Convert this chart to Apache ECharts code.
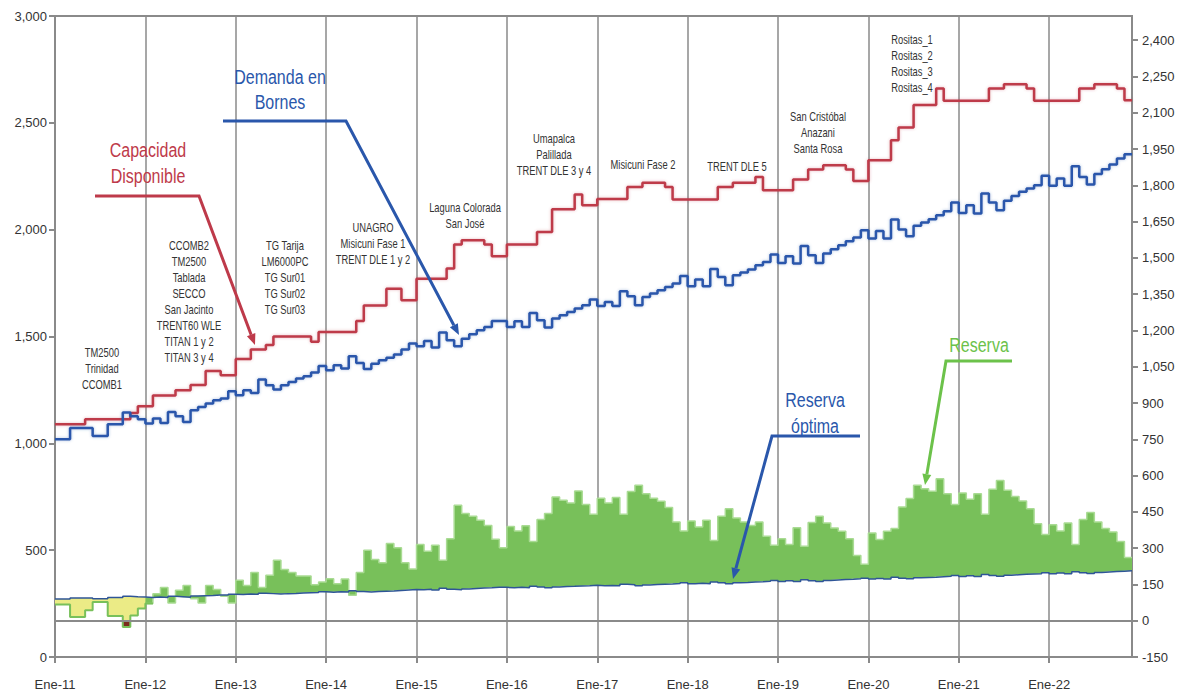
<!DOCTYPE html>
<html>
<head>
  <meta charset="UTF-8">
  <title>Capacidad Disponible vs Demanda</title>
  <script src="https://cdn.jsdelivr.net/npm/echarts@6/dist/echarts.min.js"></script>
  <style>html,body{margin:0;padding:0;background:#fff;}</style>
</head>
<body>
  <div id="main" style="width:1188px;height:692px;"></div>
  <script type="text/javascript">
    // etiquetas del eje x (mensual, Ene-11 a Dic-22)
    var meses = ['Ene', 'Feb', 'Mar', 'Abr', 'May', 'Jun', 'Jul', 'Ago', 'Sep', 'Oct', 'Nov', 'Dic'];
    var anios = ['11', '12', '13', '14', '15', '16', '17', '18', '19', '20', '21', '22'];

    // MW, eje izquierdo
    var capacidad = [
      1089, 1089, 1089, 1089, 1113, 1113, 1113, 1113, 1113, 1113, 1142, 1174,
      1174, 1224, 1224, 1224, 1248, 1248, 1273, 1273, 1339, 1339, 1319, 1319,
      1395, 1395, 1439, 1439, 1460, 1500, 1500, 1500, 1500, 1500, 1475, 1521,
      1521, 1521, 1521, 1521, 1573, 1645, 1645, 1645, 1723, 1723, 1670, 1670,
      1770, 1770, 1770, 1770, 1818, 1930, 1951, 1951, 1951, 1930, 1876, 1876,
      1930, 1930, 1930, 1930, 1989, 1989, 2096, 2096, 2096, 2165, 2114, 2114,
      2144, 2144, 2144, 2144, 2200, 2200, 2219, 2219, 2219, 2200, 2141, 2141,
      2141, 2141, 2141, 2141, 2200, 2200, 2219, 2219, 2219, 2247, 2185, 2185,
      2185, 2185, 2235, 2235, 2282, 2282, 2302, 2302, 2302, 2282, 2228, 2228,
      2325, 2325, 2325, 2419, 2478, 2478, 2583, 2583, 2583, 2661, 2603, 2603,
      2603, 2603, 2603, 2603, 2661, 2661, 2681, 2681, 2681, 2661, 2603, 2603,
      2603, 2603, 2603, 2603, 2661, 2661, 2681, 2681, 2681, 2661, 2606, 2606
    ];
    var demanda = [
      1019, 1019, 1072, 1072, 1072, 1034, 1034, 1089, 1089, 1144, 1127, 1113,
      1093, 1116, 1095, 1147, 1127, 1100, 1155, 1170, 1186, 1202, 1210, 1244,
      1225, 1248, 1236, 1299, 1272, 1252, 1272, 1287, 1303, 1314, 1331, 1362,
      1342, 1365, 1350, 1408, 1376, 1348, 1373, 1389, 1400, 1416, 1439, 1467,
      1454, 1479, 1448, 1519, 1482, 1454, 1490, 1511, 1529, 1545, 1573, 1573,
      1545, 1571, 1545, 1610, 1576, 1542, 1584, 1600, 1615, 1631, 1646, 1673,
      1643, 1662, 1643, 1712, 1688, 1646, 1685, 1701, 1717, 1732, 1748, 1783,
      1735, 1767, 1735, 1816, 1779, 1740, 1787, 1799, 1813, 1834, 1849, 1884,
      1844, 1876, 1842, 1924, 1880, 1844, 1888, 1908, 1927, 1946, 1963, 1997,
      1959, 1994, 1959, 2048, 2001, 1969, 2018, 2033, 2049, 2068, 2086, 2127,
      2078, 2114, 2076, 2169, 2127, 2091, 2135, 2157, 2177, 2193, 2208, 2252,
      2205, 2239, 2205, 2297, 2247, 2211, 2260, 2283, 2305, 2333, 2353, 2353
    ];

    // MW, eje derecho
    var reserva = [
      67, 67, 15, 15, 43, 77, 77, 19, 19, -26, 22, 50,
      71, 112, 137, 73, 126, 146, 91, 73, 146, 129, 101, 73,
      167, 146, 199, 137, 188, 250, 212, 199, 185, 185, 149, 160,
      174, 153, 172, 105, 199, 291, 253, 240, 319, 302, 240, 214,
      315, 287, 312, 250, 339, 477, 443, 432, 415, 394, 337, 302,
      390, 371, 393, 328, 418, 443, 511, 498, 487, 536, 480, 440,
      506, 487, 509, 440, 534, 560, 525, 506, 494, 468, 408, 371,
      412, 387, 415, 332, 432, 463, 425, 408, 394, 408, 349, 312,
      339, 315, 384, 308, 406, 432, 404, 383, 370, 339, 270, 233,
      363, 336, 370, 381, 470, 505, 560, 546, 535, 587, 525, 480,
      528, 502, 525, 440, 543, 580, 539, 514, 495, 463, 401, 356,
      397, 371, 404, 315, 418, 447, 408, 381, 367, 328, 261, 261
    ];
    var reservaOptima = [
      90, 90, 94, 94, 94, 91, 91, 96, 96, 101, 99, 98,
      96, 98, 96, 101, 99, 97, 102, 103, 104, 106, 106, 109,
      108, 110, 109, 114, 112, 110, 112, 113, 115, 116, 117, 120,
      118, 120, 119, 124, 121, 119, 121, 122, 123, 125, 127, 129,
      128, 130, 127, 134, 130, 128, 131, 133, 135, 136, 138, 138,
      136, 138, 136, 142, 139, 136, 139, 141, 142, 144, 145, 147,
      145, 146, 145, 151, 149, 145, 148, 150, 151, 152, 154, 157,
      153, 155, 153, 160, 157, 153, 157, 158, 160, 161, 163, 166,
      162, 165, 162, 169, 165, 162, 166, 168, 170, 171, 173, 176,
      172, 175, 172, 180, 176, 173, 178, 179, 180, 182, 184, 187,
      183, 186, 183, 191, 187, 184, 188, 190, 192, 193, 194, 198,
      194, 197, 194, 202, 198, 195, 199, 201, 203, 205, 207, 207
    ];

    var categorias = [];
    anios.forEach(function (a) {
      meses.forEach(function (m) { categorias.push(m + '-' + a); });
    });

    // 2011 en amarillo, desde Ene-12 en verde
    var corte = 12;
    var baseAmarilla = [], difAmarilla = [], bordeAmarillo = [];
    var baseVerde = [], difVerde = [], negativo = [];
    for (var i = 0; i < categorias.length; i++) {
      if (i <= corte) {
        var piso = Math.max(reserva[i], 0);
        baseAmarilla.push(piso);
        difAmarilla.push(reservaOptima[i] - piso);
        bordeAmarillo.push(reserva[i]);
      } else {
        baseAmarilla.push('-'); difAmarilla.push('-'); bordeAmarillo.push('-');
      }
      if (i >= corte) {
        baseVerde.push(reservaOptima[i]);
        difVerde.push(reserva[i] - reservaOptima[i]);
      } else {
        baseVerde.push('-'); difVerde.push('-');
      }
      if (reserva[i] < 0) negativo.push(reserva[i]);
      else if (i > 0 && reserva[i - 1] < 0) negativo.push(0);
      else negativo.push('-');
    }

    var fuente = '"Liberation Sans", Arial, sans-serif';
    var gris = '#8a8a8a';

    function paso(extra) {
      return Object.assign({ type: 'line', step: 'end', symbol: 'none', silent: true, animation: false }, extra);
    }

    function miles(v) { return Number(v).toLocaleString('en-US'); }

    // texto angosto: se comprime en horizontal (no hay Arial Narrow instalada)
    function nota(texto, x, y, size, color, lh, sx) {
      return {
        type: 'text', x: x, y: y, z: 100, silent: true, scaleX: sx || 0.72,
        style: {
          text: texto, fill: color, fontSize: size, fontFamily: fuente,
          align: 'center', textAlign: 'center', verticalAlign: 'top', textVerticalAlign: 'top',
          lineHeight: lh || 16
        }
      };
    }

    function flecha(puntos, color) {
      var n = puntos.length, a = puntos[n - 2], b = puntos[n - 1];
      var dx = b[0] - a[0], dy = b[1] - a[1], len = Math.sqrt(dx * dx + dy * dy);
      var ux = dx / len, uy = dy / len, L = 11, W = 4.5;
      var bx = b[0] - ux * L, by = b[1] - uy * L;
      var linea = puntos.slice(0, n - 1).concat([[bx, by]]);
      return [
        { type: 'polyline', z: 100, silent: true, shape: { points: linea },
          style: { stroke: color, lineWidth: 3, fill: null } },
        { type: 'polygon', z: 100, silent: true,
          shape: { points: [[b[0], b[1]], [bx - uy * W, by + ux * W], [bx + uy * W, by - ux * W]] },
          style: { fill: color } }
      ];
    }

    var rojo = '#be3a4a', azul = '#2a57ab', verde = '#6cc24a';
    var graficos = [
      nota('TM2500\nTrinidad\nCCOMB1', 102, 344, 13, '#333'),
      nota('CCOMB2\nTM2500\nTablada\nSECCO\nSan Jacinto\nTRENT60 WLE\nTITAN 1 y 2\nTITAN 3 y 4', 189, 237, 13, '#333'),
      nota('TG Tarija\nLM6000PC\nTG Sur01\nTG Sur02\nTG Sur03', 285, 237, 13, '#333'),
      nota('UNAGRO\nMisicuni Fase 1\nTRENT DLE 1 y 2', 373, 219, 13, '#333'),
      nota('Laguna Colorada\nSan José', 465, 199, 13, '#333'),
      nota('Umapalca\nPalillada\nTRENT DLE 3 y 4', 554, 130, 13, '#333'),
      nota('Misicuni Fase 2', 643, 156, 13, '#333'),
      nota('TRENT DLE 5', 737, 158, 13, '#333'),
      nota('San Cristóbal\nAnazani\nSanta Rosa', 818, 108, 13, '#333'),
      nota('Rositas_1\nRositas_2\nRositas_3\nRositas_4', 912, 31, 13, '#333'),
      nota('Capacidad\nDisponible', 148, 137, 20, rojo, 26, 0.8),
      nota('Demanda en\nBornes', 280, 65, 20, azul, 25, 0.8),
      nota('Reserva\nóptima', 815, 387, 20, azul, 26, 0.8),
      nota('Reserva', 979, 332, 20, verde, 26, 0.8)
    ]
      .concat(flecha([[95, 196], [199, 196], [255, 345]], rojo))
      .concat(flecha([[223, 121], [346, 121], [459, 335]], azul))
      .concat(flecha([[860, 436], [772, 436], [733, 579]], azul))
      .concat(flecha([[1012, 361], [946, 361], [925, 485]], verde));

    var myChart = echarts.init(document.getElementById('main'), null, { renderer: 'svg' });

    var option = {
      animation: false,
      backgroundColor: '#fff',
      textStyle: { fontFamily: fuente },
      grid: {
        left: 55, right: 56, top: 16, bottom: 35,
        outerBoundsMode: 'none',
        show: true, borderColor: gris, borderWidth: 2
      },
      xAxis: {
        type: 'category',
        data: categorias,
        boundaryGap: false,
        axisLine: { lineStyle: { color: gris, width: 2 } },
        axisTick: { interval: 11, length: 6, lineStyle: { color: gris, width: 2 } },
        axisLabel: { interval: 11, margin: 21, fontSize: 13, color: '#333' },
        splitLine: { show: true, interval: 11, lineStyle: { color: gris, width: 1.5 } }
      },
      yAxis: [{
        type: 'value', min: 0, max: 3000, interval: 500,
        axisLine: { show: true, lineStyle: { color: gris, width: 2 } },
        axisTick: { show: true, length: 6, lineStyle: { color: gris, width: 2 } },
        axisLabel: { fontSize: 13, color: '#333', margin: 8, formatter: miles },
        splitLine: { show: false }
      }, {
        type: 'value', position: 'right', min: -150, max: 2500, interval: 150,
        axisLine: { show: true, lineStyle: { color: gris, width: 2 } },
        axisTick: { show: true, length: 6, lineStyle: { color: gris, width: 2 } },
        axisLabel: { fontSize: 13, color: '#333', margin: 10, showMaxLabel: false, formatter: miles },
        splitLine: { show: false }
      }],
      graphic: { elements: graficos },
      series: [
        paso({ name: 'baseAmarilla', yAxisIndex: 1, stack: 'amarilla', stackStrategy: 'all', z: 2,
          data: baseAmarilla, lineStyle: { opacity: 0 } }),
        paso({ name: 'difAmarilla', yAxisIndex: 1, stack: 'amarilla', stackStrategy: 'all', z: 2,
          data: difAmarilla, lineStyle: { opacity: 0 }, areaStyle: { color: '#ebeb86', opacity: 1 } }),
        paso({ name: 'baseVerde', yAxisIndex: 1, stack: 'verde', stackStrategy: 'all', z: 2,
          data: baseVerde, lineStyle: { opacity: 0 } }),
        paso({ name: 'Reserva', yAxisIndex: 1, stack: 'verde', stackStrategy: 'all', z: 2,
          data: difVerde, lineStyle: { color: '#a9db93', width: 1.5 },
          areaStyle: { color: '#78c05a', opacity: 1 } }),
        paso({ name: 'negativo', yAxisIndex: 1, z: 2, data: negativo,
          lineStyle: { opacity: 0 }, areaStyle: { color: '#7b2b1e', opacity: 1, origin: 'auto' } }),
        paso({ name: 'Reserva 2011', yAxisIndex: 1, z: 3, data: bordeAmarillo,
          lineStyle: { color: '#78c05a', width: 2 } }),
        paso({ name: 'Reserva óptima', yAxisIndex: 1, z: 4, data: reservaOptima,
          lineStyle: { color: '#2f5597', width: 1.5 },
          markLine: { silent: true, symbol: 'none', label: { show: false }, animation: false,
            lineStyle: { color: gris, width: 2, type: 'solid' }, data: [{ yAxis: 0 }] } }),
        paso({ name: 'Capacidad Disponible', yAxisIndex: 0, z: 5, data: capacidad,
          lineStyle: { color: rojo, width: 2.5, shadowColor: 'rgba(190,58,74,0.35)', shadowBlur: 3 } }),
        paso({ name: 'Demanda en Bornes', yAxisIndex: 0, z: 5, data: demanda,
          lineStyle: { color: azul, width: 2.5, shadowColor: 'rgba(42,87,171,0.35)', shadowBlur: 3 } })
      ]
    };

    myChart.setOption(option);
  </script>
</body>
</html>
